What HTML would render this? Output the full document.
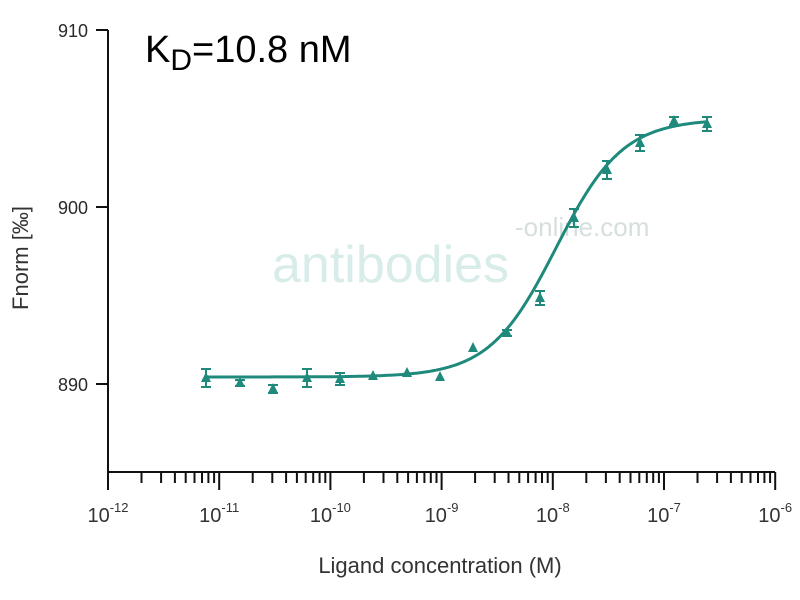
<!DOCTYPE html>
<html><head><meta charset="utf-8"><style>
html,body{margin:0;padding:0;background:#fff;}
svg{display:block;font-family:"Liberation Sans",sans-serif;}
</style></head><body>
<svg id="s" width="800" height="600" viewBox="0 0 800 600" xmlns="http://www.w3.org/2000/svg">
<g fill="#2a2a2a" font-size="18">
<text x="88" y="37" text-anchor="end">910</text>
<text x="88" y="214" text-anchor="end">900</text>
<text x="88" y="391" text-anchor="end">890</text>
</g>
<text x="145" y="62" font-size="38" fill="#000">K<tspan font-size="30" dy="8">D</tspan><tspan dy="-8">=10.8 nM</tspan></text>
<text x="272" y="282" font-size="52" fill="#d8ecea">antibodies</text>
<text x="515" y="236" font-size="26" fill="#d6dede">-online.com</text>
<text transform="translate(28,258) rotate(-90)" text-anchor="middle" font-size="22" fill="#333">Fnorm [‰]</text>
<text x="440" y="573" text-anchor="middle" font-size="22" fill="#333">Ligand concentration (M)</text>
<g id="ax" stroke="#111" stroke-width="2" fill="none">
<path d="M108,30 V472 H775"/>
<path d="M96,30 H108 M96,207 H108 M96,384 H108"/>
</g>
<g id="xl" fill="#333" font-size="20"></g>
<g id="d"></g>
</svg>
<script>
var s=document.getElementById('s'),ns='http://www.w3.org/2000/svg';
function X(e){return 108+(e+12)*111.2;}
var ax=document.getElementById('ax'),p='';
for(var k=0;k<=6;k++){var x=X(-12+k);p+='M'+x+',472V490';
 var t=document.createElementNS(ns,'text');t.setAttribute('x',x);t.setAttribute('y',522);t.setAttribute('text-anchor','middle');
 t.innerHTML='10<tspan font-size="13" dy="-10">-'+(12-k)+'</tspan>';document.getElementById('xl').appendChild(t);
 if(k<6)for(var m=2;m<10;m++){var xm=X(-12+k+Math.log10(m));p+='M'+xm.toFixed(1)+',472V483';}}
var pe=document.createElementNS(ns,'path');pe.setAttribute('d',p);ax.appendChild(pe);
var g=document.getElementById('d'),c='#1f8a7c';
var pts=[[206,378,9],[240,383,3],[273,389,4],[307,378,9],[340,379,6],[373,376,0],[407,373,0],[440,377,0],[473,348,0],[507,333,3],[540,298,7],[574,218,9],[607,170,9],[640,143,8],[674,121,4],[707,124,7]];
var h='';
var lo=377,hi=119,mid=556,d='';
for(var x=206;x<=707;x+=2){var e=(x-mid)/111.2;var y=lo+(hi-lo)/(1+Math.pow(10,-e*1.45));d+=(x==206?'M':'L')+x+','+y.toFixed(1);}
h+='<path d="'+d+'" stroke="'+c+'" stroke-width="3" fill="none"/>';
pts.forEach(function(q){var x=q[0],y=q[1],e=q[2];
 if(e)h+='<path d="M'+x+','+(y-e)+'V'+(y+e)+'M'+(x-5)+','+(y-e)+'H'+(x+5)+'M'+(x-5)+','+(y+e)+'H'+(x+5)+'" stroke="'+c+'" stroke-width="2"/>';
 h+='<path d="M'+x+','+(y-6)+'L'+(x+5)+','+(y+4)+'L'+(x-5)+','+(y+4)+'Z" fill="'+c+'"/>';});
g.innerHTML=h;
</script>
</body></html>
